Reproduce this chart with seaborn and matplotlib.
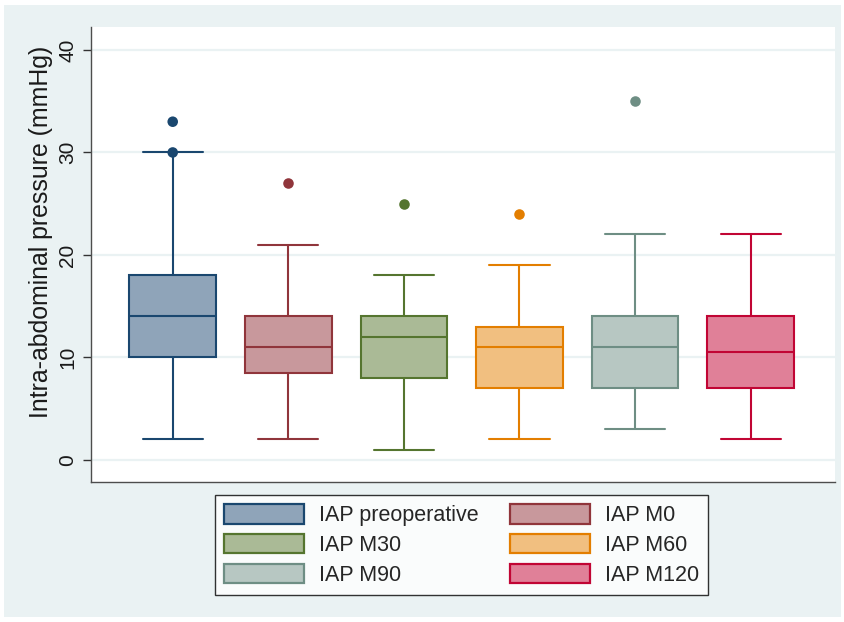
import numpy as np
import pandas as pd
import matplotlib
matplotlib.use("Agg")
import matplotlib.pyplot as plt
from matplotlib.patches import Patch, Rectangle
import seaborn as sns

# ---- data ----
groups = ["IAP preoperative", "IAP M0", "IAP M30", "IAP M60", "IAP M90", "IAP M120"]
whisker_low = [2, 2, 1, 2, 3, 2]
q1 = [10, 8.5, 8, 7, 7, 7]
median = [14, 11, 12, 11, 11, 10.5]
q3 = [18, 14, 14, 13, 14, 14]
whisker_high = [30, 21, 18, 19, 22, 22]
outlier_group = ["IAP preoperative", "IAP preoperative", "IAP M0", "IAP M30", "IAP M60", "IAP M90"]
outlier_value = [33, 30, 27, 25, 24, 35]

fill_colors = ["#8FA4B9", "#C8989C", "#AABA96", "#F1BF80", "#B7C7C2", "#E08098"]
edge_colors = ["#1A476F", "#90353B", "#55752F", "#E37E00", "#6E8E84", "#C10534"]

# summary table -> long form (five summary values per group)
rows = []
for g, a, b, c, d, e in zip(groups, whisker_low, q1, median, q3, whisker_high):
    for v in (a, b, c, d, e):
        rows.append({"group": g, "value": v})
box_df = pd.DataFrame(rows)
out_df = pd.DataFrame({"group": outlier_group, "value": outlier_value})

sns.set_theme(style="white")
plt.rcParams["font.family"] = ["Liberation Sans", "DejaVu Sans"]

fig = plt.figure(figsize=(8.44, 6.22), dpi=100, facecolor="white")
W, H = 844, 622
fig.patches.append(Rectangle((4 / W, 5 / H), (841 - 4) / W, (617 - 5) / H,
                             transform=fig.transFigure, facecolor="#EAF2F3",
                             edgecolor="none", zorder=-10))
ax = fig.add_axes([91 / W, (H - 481.5) / H, (835 - 91) / W, (481.5 - 27) / H])
ax.set_facecolor("white")

sns.boxplot(data=box_df, x="group", y="value", hue="group", order=groups,
            hue_order=groups, palette=fill_colors, saturation=1, width=0.75,
            whis=(0, 100), showfliers=False, linewidth=1.5, legend=False, ax=ax)

# colour each box's lines with its own edge colour, widen caps
for cont, ec in zip(ax.containers, edge_colors):
    for b in cont.boxes:
        b.set_edgecolor(ec)
    for ln in list(cont.whiskers) + list(cont.caps) + list(cont.medians):
        ln.set_color(ec)
    for cap in cont.caps:
        xd = np.asarray(cap.get_xdata(), dtype=float)
        c = xd.mean()
        cap.set_xdata([c - 0.26, c + 0.26])

sns.stripplot(data=out_df, x="group", y="value", hue="group", order=groups,
              hue_order=groups, palette=dict(zip(groups, edge_colors)),
              jitter=False, size=7.6, linewidth=0, legend=False, ax=ax, zorder=5)

ax.set_xlim(-0.707, 5.73)
ax.set_ylim(-2.1, 42.24)
ax.set_yticks([0, 10, 20, 30, 40])
ax.set_xticks([])
ax.set_xlabel("")
ax.set_ylabel("Intra-abdominal pressure (mmHg)", fontsize=17.9, color="#1a1a1a")
ax.yaxis.set_label_coords(-0.051, 0.549)
ax.yaxis.grid(True, color="#EAF2F3", linewidth=1.6)
ax.xaxis.grid(False)
ax.set_axisbelow(True)
for s in ("top", "right"):
    ax.spines[s].set_visible(False)
for s in ("left", "bottom"):
    ax.spines[s].set_color("#4d4d4d")
    ax.spines[s].set_linewidth(1.0)
ax.tick_params(axis="y", which="major", left=True, length=6, width=1, color="#333333",
               labelsize=15, labelcolor="#1a1a1a", pad=4, labelrotation=90)
for lab in ax.get_yticklabels():
    lab.set_va("center")

handles = [Patch(facecolor=f, edgecolor=e, linewidth=1.6, label=g)
           for g, f, e in zip(groups, fill_colors, edge_colors)]
order = [0, 2, 4, 1, 3, 5]
leg = fig.legend([handles[i] for i in order], [groups[i] for i in order],
                 loc="center", bbox_to_anchor=(461.5 / W, 1 - 545 / H), ncol=2,
                 fontsize=15.5, frameon=True, fancybox=False, edgecolor="black",
                 handlelength=3.7, handleheight=1.0, labelspacing=0.35,
                 columnspacing=1.45, handletextpad=0.7, borderpad=0.45)
leg.get_frame().set_linewidth(1.0)
leg.get_frame().set_facecolor("white")

fig.savefig("out.png", dpi=100, facecolor=fig.get_facecolor())
